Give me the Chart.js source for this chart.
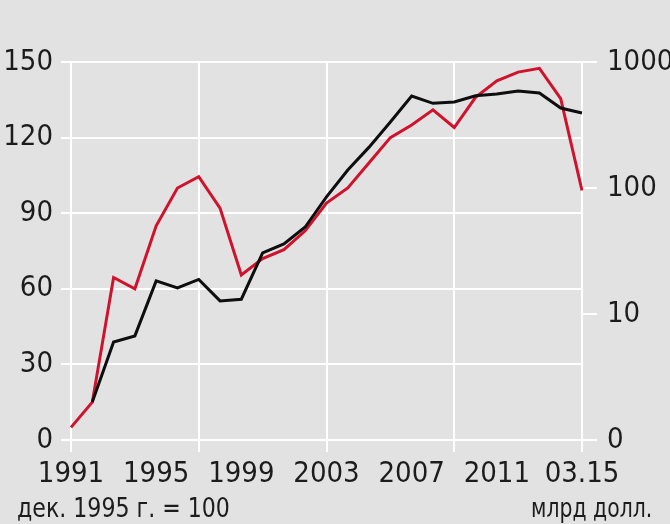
<!DOCTYPE html>
<html>
<head>
<meta charset="utf-8">
<script src="https://cdn.jsdelivr.net/npm/chart.js@4"></script>
<style>
  html, body { margin: 0; padding: 0; background: #e2e2e2; }
  #wrap { position: relative; width: 670px; height: 524px; }
  .note {
    position: absolute;
    font-family: "Liberation Sans Narrow", "DejaVu Sans Condensed", sans-serif;
    font-size: 27px;
    line-height: 1;
    color: #1c1c1c;
    white-space: nowrap;
  }
  .left-note { left: 17px; top: 494px; transform: scaleX(0.91); transform-origin: left center; }
  .right-note { right: 18px; top: 494px; transform: scaleX(0.84); transform-origin: right center; }
</style>
</head>
<body>
<div id="wrap">
  <canvas id="chart" width="670" height="524"></canvas>
  <div class="note left-note">дек. 1995 г. = 100</div>
  <div class="note right-note">млрд долл.</div>
</div>
<script>
// Years on the x axis (last point is March 2015)
const years = ['1991', '1992', '1993', '1994', '1995', '1996', '1997', '1998', '1999', '2000',
  '2001', '2002', '2003', '2004', '2005', '2006', '2007', '2008', '2009', '2010',
  '2011', '2012', '2013', '2014', '03.15'];

// Red line, left axis: index, Dec 1995 = 100
const indexValues = [5, 15, 64.5, 60, 85, 100, 104.5, 92, 65.5, 72,
  75.5, 83, 94, 100, 110, 120, 125, 131, 124, 136,
  142.5, 146, 147.5, 135.5, 99];

// Black line, right axis (log): bn dollars
const bnValues = [null, 2.0, 6.0, 6.7, 18.3, 16.1, 18.8, 12.7, 13.1, 30.5,
  36, 49, 85, 139, 211, 334, 537, 470, 481, 540,
  557, 588, 568, 431, 394];

const leftTicks = [0, 30, 60, 90, 120, 150];
const rightTicks = [1, 10, 100, 1000];

const FONT = '"Liberation Sans Narrow", "DejaVu Sans Condensed", sans-serif';
const GRID = '#ffffff';
const TEXT = '#1c1c1c';

const ctx = document.getElementById('chart');

new Chart(ctx, {
  type: 'line',
  data: {
    labels: years,
    datasets: [
      {
        label: 'млрд долл.',
        data: bnValues,
        yAxisID: 'yRight',
        borderColor: '#0e0e0e',
        borderWidth: 3,
        pointRadius: 0,
        tension: 0,
        spanGaps: false
      },
      {
        label: 'дек. 1995 г. = 100',
        data: indexValues,
        yAxisID: 'yLeft',
        borderColor: '#d0122d',
        borderWidth: 3,
        pointRadius: 0,
        tension: 0
      }
    ]
  },
  options: {
    responsive: false,
    animation: false,
    events: [],
    layout: { padding: { top: 62, left: 0, right: 0, bottom: 0 } },
    plugins: {
      legend: { display: false },
      tooltip: { enabled: false }
    },
    scales: {
      x: {
        offset: false,
        border: { display: false },
        grid: {
          color: (c) => (c.index % 6 === 0 ? GRID : 'rgba(0,0,0,0)'),
          lineWidth: 2,
          tickLength: 12
        },
        ticks: {
          autoSkip: false,
          maxRotation: 0,
          padding: 5,
          color: TEXT,
          font: { family: FONT, size: 29 },
          callback: function(value, index) {
            return index % 4 === 0 ? years[index] : '';
          }
        },
        afterFit: (scale) => { scale.height = 84; }
      },
      yLeft: {
        position: 'left',
        min: 0,
        max: 150,
        border: { display: false },
        grid: { color: GRID, lineWidth: 2, tickLength: 10 },
        afterBuildTicks: (scale) => { scale.ticks = leftTicks.map((v) => ({ value: v })); },
        ticks: {
          padding: 8,
          color: TEXT,
          font: { family: FONT, size: 29 }
        },
        afterFit: (scale) => { scale.width = 71; }
      },
      yRight: {
        type: 'logarithmic',
        position: 'right',
        min: 1,
        max: 1000,
        border: { display: false },
        grid: { color: GRID, lineWidth: 2, tickLength: 15, drawOnChartArea: false },
        afterBuildTicks: (scale) => { scale.ticks = rightTicks.map((v) => ({ value: v })); },
        ticks: {
          padding: 10,
          color: TEXT,
          font: { family: FONT, size: 29 },
          callback: (v) => (v === 1 ? '0' : String(v))
        },
        afterFit: (scale) => { scale.width = 88; }
      }
    }
  }
});
</script>
</body>
</html>
